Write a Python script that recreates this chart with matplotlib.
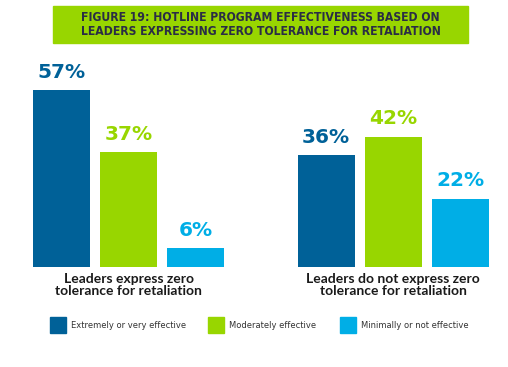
import numpy as np
import matplotlib.pyplot as plt
from matplotlib.patches import Rectangle
from matplotlib.transforms import blended_transform_factory

groups = ["Leaders express zero\ntolerance for retaliation",
          "Leaders do not express zero\ntolerance for retaliation"]
series = ["Extremely or very effective", "Moderately effective", "Minimally or not effective"]
values = [[57, 37, 6],
          [36, 42, 22]]
colors = ["#006198", "#98d600", "#00aee6"]
title = "FIGURE 19: HOTLINE PROGRAM EFFECTIVENESS BASED ON\nLEADERS EXPRESSING ZERO TOLERANCE FOR RETALIATION"

W, H = 508, 367
fig = plt.figure(figsize=(W / 100, H / 100), dpi=100)

# axes placed in pixel terms: bars from x=33 to 489, baseline at y=267
ax = fig.add_axes([33 / W, (H - 267) / H, 456 / W, 186.3 / H])
group_gap = 3.94
width = 0.85
for g, vals in enumerate(values):
    for i, v in enumerate(vals):
        x = g * group_gap + i
        ax.bar(x, v, width=width, color=colors[i], label=series[i] if g == 0 else None)
        ax.annotate(f"{v}%", (x, v), xytext=(0, 6), textcoords="offset points",
                    ha="center", va="bottom", fontsize=14.5, fontweight="bold",
                    color=colors[i])

ax.set_xlim(-width / 2, group_gap + 2 + width / 2)
ax.set_ylim(0, 60)
ax.axis("off")

trans = blended_transform_factory(ax.transData, fig.transFigure)
for g, name in enumerate(groups):
    ax.text(g * group_gap + 1, (H - 273) / H, name, transform=trans, ha="center", va="top",
            fontsize=10, fontweight="bold", color="#1a1a1a", linespacing=1.0,
            family="Lato")

# title banner
fig.patches.append(Rectangle((53 / W, (H - 43) / H), 415 / W, 37 / H,
                             transform=fig.transFigure, color="#98d600", zorder=0))
fig.text(260.5 / W, (H - 24.5) / H, title, ha="center", va="center", fontsize=8.7,
         fontweight="bold", color="#2a2d45", linespacing=1.15, fontstretch="condensed")

# legend
leg_x = [50, 208, 340]
for i, s in enumerate(series):
    fig.patches.append(Rectangle((leg_x[i] / W, (H - 333) / H), 16 / W, 16 / H,
                                 transform=fig.transFigure, color=colors[i]))
    fig.text((leg_x[i] + 21) / W, (H - 325.5) / H, s, ha="left", va="center",
             fontsize=6, color="#333333")

fig.savefig("out.png", dpi=100)
